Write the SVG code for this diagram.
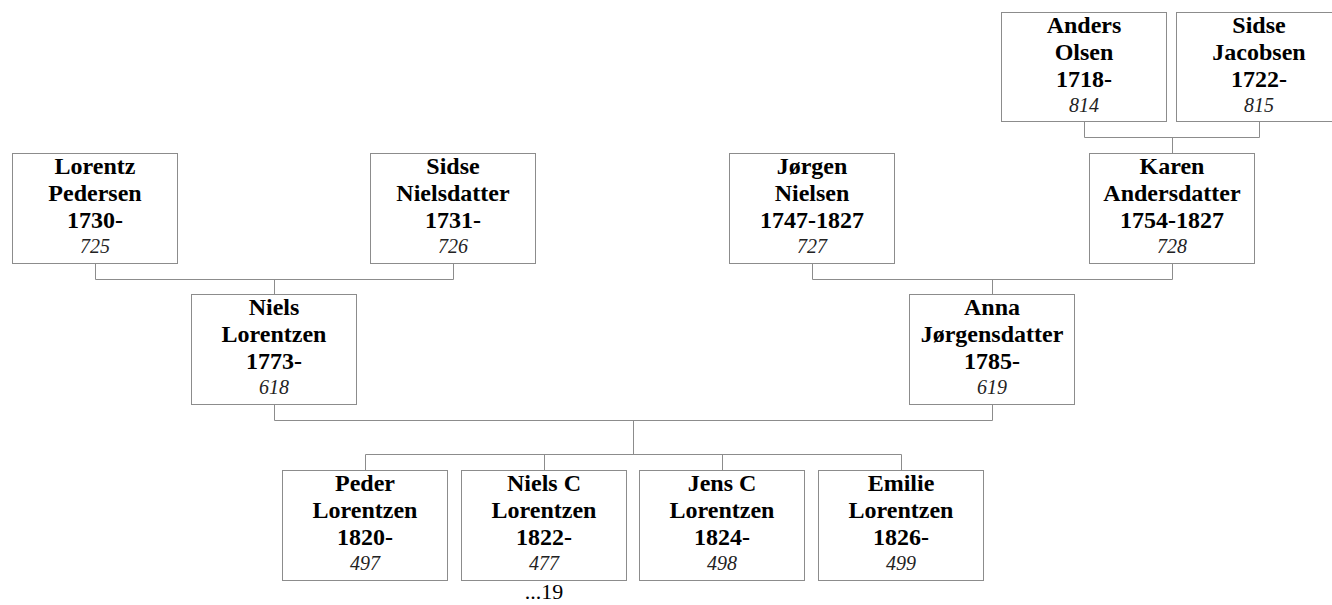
<svg xmlns="http://www.w3.org/2000/svg" width="1332" height="605" viewBox="0 0 1332 605">
<style>
.box{fill:#fff;stroke:#8c8c8c;stroke-width:1}
.con{fill:none;stroke:#8c8c8c;stroke-width:1}
text{font-family:'Liberation Serif','DejaVu Serif',serif;text-anchor:middle;fill:#000}
.n{font-weight:bold;font-size:24px}
.id{font-style:italic;font-size:20px;fill:#222}
.more{font-size:22px}
</style>
<rect width="1332" height="605" fill="#fff"/>
<g id="connectors">
<path class="con" d="M1084.5,121.5V137.5H1259.5V121.5M1172.5,137.5V153.5"/>
<path class="con" d="M95.5,263.5V279.5H453.5V263.5M274.5,279.5V294.5"/>
<path class="con" d="M812.5,263.5V279.5H1172.5V263.5M992.5,279.5V294.5"/>
<path class="con" d="M274.5,404.5V420.5H992.5V404.5M633.5,420.5V454.5"/>
<path class="con" d="M365.5,470.5V454.5H901.5V470.5M544.5,454.5V470.5M722.5,454.5V470.5"/>
</g>
<g id="anders">
<rect class="box" x="1001.5" y="12.5" width="165" height="109"/>
<text class="n" x="1084" y="33">Anders</text>
<text class="n" x="1084" y="59.5">Olsen</text>
<text class="n" x="1084" y="86.5">1718-</text>
<text class="id" x="1084" y="112">814</text>
</g>
<g id="sidsej">
<rect class="box" x="1176.5" y="12.5" width="165" height="109"/>
<text class="n" x="1259" y="33">Sidse</text>
<text class="n" x="1259" y="59.5">Jacobsen</text>
<text class="n" x="1259" y="86.5">1722-</text>
<text class="id" x="1259" y="112">815</text>
</g>
<g id="lorentz">
<rect class="box" x="12.5" y="153.5" width="165" height="110"/>
<text class="n" x="95" y="174">Lorentz</text>
<text class="n" x="95" y="200.5">Pedersen</text>
<text class="n" x="95" y="227.5">1730-</text>
<text class="id" x="95" y="253">725</text>
</g>
<g id="sidsen">
<rect class="box" x="370.5" y="153.5" width="165" height="110"/>
<text class="n" x="453" y="174">Sidse</text>
<text class="n" x="453" y="200.5">Nielsdatter</text>
<text class="n" x="453" y="227.5">1731-</text>
<text class="id" x="453" y="253">726</text>
</g>
<g id="jorgen">
<rect class="box" x="729.5" y="153.5" width="165" height="110"/>
<text class="n" x="812" y="174">Jørgen</text>
<text class="n" x="812" y="200.5">Nielsen</text>
<text class="n" x="812" y="227.5">1747-1827</text>
<text class="id" x="812" y="253">727</text>
</g>
<g id="karen">
<rect class="box" x="1089.5" y="153.5" width="165" height="110"/>
<text class="n" x="1172" y="174">Karen</text>
<text class="n" x="1172" y="200.5">Andersdatter</text>
<text class="n" x="1172" y="227.5">1754-1827</text>
<text class="id" x="1172" y="253">728</text>
</g>
<g id="niels">
<rect class="box" x="191.5" y="294.5" width="165" height="110"/>
<text class="n" x="274" y="315">Niels</text>
<text class="n" x="274" y="341.5">Lorentzen</text>
<text class="n" x="274" y="368.5">1773-</text>
<text class="id" x="274" y="394">618</text>
</g>
<g id="anna">
<rect class="box" x="909.5" y="294.5" width="165" height="110"/>
<text class="n" x="992" y="315">Anna</text>
<text class="n" x="992" y="341.5">Jørgensdatter</text>
<text class="n" x="992" y="368.5">1785-</text>
<text class="id" x="992" y="394">619</text>
</g>
<g id="peder">
<rect class="box" x="282.5" y="470.5" width="165" height="110"/>
<text class="n" x="365" y="491">Peder</text>
<text class="n" x="365" y="517.5">Lorentzen</text>
<text class="n" x="365" y="544.5">1820-</text>
<text class="id" x="365" y="570">497</text>
</g>
<g id="nielsc">
<rect class="box" x="461.5" y="470.5" width="165" height="110"/>
<text class="n" x="544" y="491">Niels C</text>
<text class="n" x="544" y="517.5">Lorentzen</text>
<text class="n" x="544" y="544.5">1822-</text>
<text class="id" x="544" y="570">477</text>
<text class="more" x="544" y="599">...19</text>
</g>
<g id="jensc">
<rect class="box" x="639.5" y="470.5" width="165" height="110"/>
<text class="n" x="722" y="491">Jens C</text>
<text class="n" x="722" y="517.5">Lorentzen</text>
<text class="n" x="722" y="544.5">1824-</text>
<text class="id" x="722" y="570">498</text>
</g>
<g id="emilie">
<rect class="box" x="818.5" y="470.5" width="165" height="110"/>
<text class="n" x="901" y="491">Emilie</text>
<text class="n" x="901" y="517.5">Lorentzen</text>
<text class="n" x="901" y="544.5">1826-</text>
<text class="id" x="901" y="570">499</text>
</g>
</svg>
